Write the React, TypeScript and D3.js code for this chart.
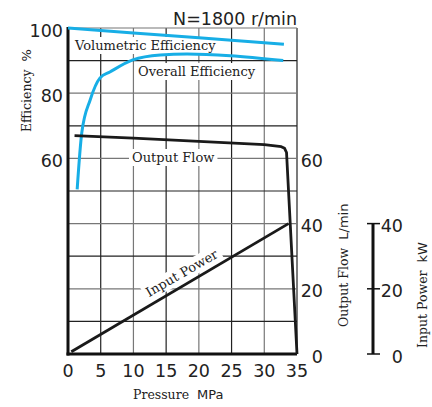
import { useEffect, useRef } from "react";
import * as d3 from "d3";

// pressure (MPa) ticks and value axes
const pressureTicks = [0, 5, 10, 15, 20, 25, 30, 35];
const effTicks = [60, 80, 100];
const flowTicks = [0, 20, 40, 60];
const powerTicks = [0, 20, 40];
const gridY = [0, 10, 20, 30, 40, 50, 60, 70, 80, 90, 100];

// curves: [pressure, value]
const volumetricEff: [number, number][] = [
  [0, 100],
  [10, 98.5],
  [20, 97],
  [33, 95],
];
const overallEff: [number, number][] = [
  [1.4, 50.5],
  [2.1, 67.8],
  [3.4, 78],
  [4.9, 84.7],
  [6.4, 86.5],
  [9.9, 90.2],
  [14.1, 91.7],
  [18.2, 92],
  [24.8, 91.5],
  [32.9, 90],
];
const outputFlow: [number, number][] = [
  [1, 67],
  [10, 66.2],
  [20, 65.2],
  [30, 64.2],
  [32.6, 63.6],
  [33.1, 63.1],
  [33.4, 61.8],
  [35, 0],
];
const inputPower: [number, number][] = [
  [0.5, 0.7],
  [33.7, 40],
];

const BLUE = "#17aee6";
const SANS = "'DejaVu Sans', sans-serif";
const SERIF = "'DejaVu Serif', serif";

export default function App() {
  const svgRef = useRef<SVGSVGElement | null>(null);

  useEffect(() => {
    if (!svgRef.current) return;
    const svg = d3.select(svgRef.current);
    svg.selectAll("*").remove();

    const x = d3.scaleLinear().domain([0, 35]).range([68, 297]);
    const y = d3.scaleLinear().domain([0, 100]).range([354, 28]);
    const yPow = d3.scaleLinear().domain([0, 40]).range([354, 223.6]);

    // grid
    const grid = svg.append("g");
    pressureTicks.slice(1).forEach((p, i) => {
      grid
        .append("line")
        .attr("x1", x(p))
        .attr("x2", x(p))
        .attr("y1", y(100))
        .attr("y2", y(0))
        .attr("stroke", i % 2 === 0 ? "#222" : "#777")
        .attr("stroke-width", 1.2);
    });
    gridY.slice(1).forEach((v, i) => {
      grid
        .append("line")
        .attr("x1", x(0))
        .attr("x2", x(35))
        .attr("y1", y(v))
        .attr("y2", y(v))
        .attr("stroke", i % 2 === 0 ? "#222" : "#777")
        .attr("stroke-width", 1.2);
    });

    // labels with white boxes over grid
    const label = (
      txt: string,
      tx: number,
      ty: number,
      rotate = 0,
      anchor = "start"
    ) => {
      const g = svg
        .append("g")
        .attr("transform", `translate(${tx},${ty}) rotate(${rotate})`);
      const rect = g.append("rect").attr("fill", "#fff");
      const t = g
        .append("text")
        .attr("text-anchor", anchor)
        .attr("font-family", SERIF)
        .attr("font-size", 13)
        .attr("fill", "#222")
        .text(txt);
      const b = (t.node() as SVGTextElement).getBBox();
      rect
        .attr("x", b.x - 3)
        .attr("y", b.y - 1)
        .attr("width", b.width + 6)
        .attr("height", b.height + 2);
    };
    label("Volumetric Efficiency", 75, 50);
    label("Overall Efficiency", 138, 76);
    label("Output Flow", 132, 162);
    label("Input Power", 184, 277, -30, "middle");

    // axes
    svg
      .append("line")
      .attr("x1", x(0))
      .attr("x2", x(0))
      .attr("y1", y(100) - 1)
      .attr("y2", y(0) + 1.5)
      .attr("stroke", "#111")
      .attr("stroke-width", 3);
    svg
      .append("line")
      .attr("x1", x(0) - 1.5)
      .attr("x2", x(35))
      .attr("y1", y(0))
      .attr("y2", y(0))
      .attr("stroke", "#111")
      .attr("stroke-width", 3);

    // curves
    const line = d3
      .line<[number, number]>()
      .x((d) => x(d[0]))
      .y((d) => y(d[1]));
    svg
      .append("path")
      .attr("d", line(volumetricEff))
      .attr("fill", "none")
      .attr("stroke", BLUE)
      .attr("stroke-width", 3);
    svg
      .append("path")
      .attr("d", line.curve(d3.curveMonotoneX)(overallEff))
      .attr("fill", "none")
      .attr("stroke", BLUE)
      .attr("stroke-width", 3);
    line.curve(d3.curveLinear);
    svg
      .append("path")
      .attr("d", line(outputFlow))
      .attr("fill", "none")
      .attr("stroke", "#1a1a1a")
      .attr("stroke-width", 2.8)
      .attr("stroke-linejoin", "round");
    svg
      .append("path")
      .attr(
        "d",
        d3
          .line<[number, number]>()
          .x((d) => x(d[0]))
          .y((d) => yPow(d[1]))(inputPower)
      )
      .attr("fill", "none")
      .attr("stroke", "#1a1a1a")
      .attr("stroke-width", 2.8);

    // tick labels
    const num = (txt: string, tx: number, ty: number, anchor: string) =>
      svg
        .append("text")
        .attr("x", tx)
        .attr("y", ty)
        .attr("text-anchor", anchor)
        .attr("font-family", SANS)
        .attr("font-size", 17.5)
        .attr("fill", "#222")
        .text(txt);

    pressureTicks.forEach((p) => num(String(p), x(p), 377, "middle"));
    effTicks.forEach((v) => num(String(v), 63, y(v) + 8.5, "end"));
    flowTicks.forEach((v) => num(String(v), 323, y(v) + 8.5, "end"));
    powerTicks.forEach((v) => num(String(v), 403, yPow(v) + 8.5, "end"));

    // input power axis
    svg
      .append("line")
      .attr("x1", 373)
      .attr("x2", 373)
      .attr("y1", yPow(40))
      .attr("y2", yPow(0))
      .attr("stroke", "#111")
      .attr("stroke-width", 3);
    powerTicks.forEach((v) =>
      svg
        .append("line")
        .attr("x1", 367)
        .attr("x2", 380)
        .attr("y1", yPow(v))
        .attr("y2", yPow(v))
        .attr("stroke", "#111")
        .attr("stroke-width", 1.5)
    );

    // titles
    svg
      .append("text")
      .attr("x", 297)
      .attr("y", 24.5)
      .attr("text-anchor", "end")
      .attr("font-family", SANS)
      .attr("font-size", 17.5)
      .attr("fill", "#222")
      .text("N=1800 r/min");

    const title = (
      serifPart: string,
      sansPart: string,
      tx: number,
      ty: number,
      rotate: number
    ) => {
      const t = svg
        .append("text")
        .attr("transform", `translate(${tx},${ty}) rotate(${rotate})`)
        .attr("fill", "#222");
      t.append("tspan")
        .attr("font-family", SERIF)
        .attr("font-size", 12.5)
        .text(serifPart);
      t.append("tspan")
        .attr("dx", 8)
        .attr("font-family", SANS)
        .attr("font-size", 13)
        .text(sansPart);
    };
    title("Pressure", "MPa", 133, 399, 0);
    title("Efficiency", "%", 31, 132, -90);
    title("Output Flow", "L/min", 348, 327, -90);
    title("Input Power", "kW", 427, 348, -90);
  }, []);

  return (
    <svg
      ref={svgRef}
      width={432}
      height={407}
      style={{ position: "absolute", left: 0, top: 0, background: "#fff" }}
    />
  );
}
